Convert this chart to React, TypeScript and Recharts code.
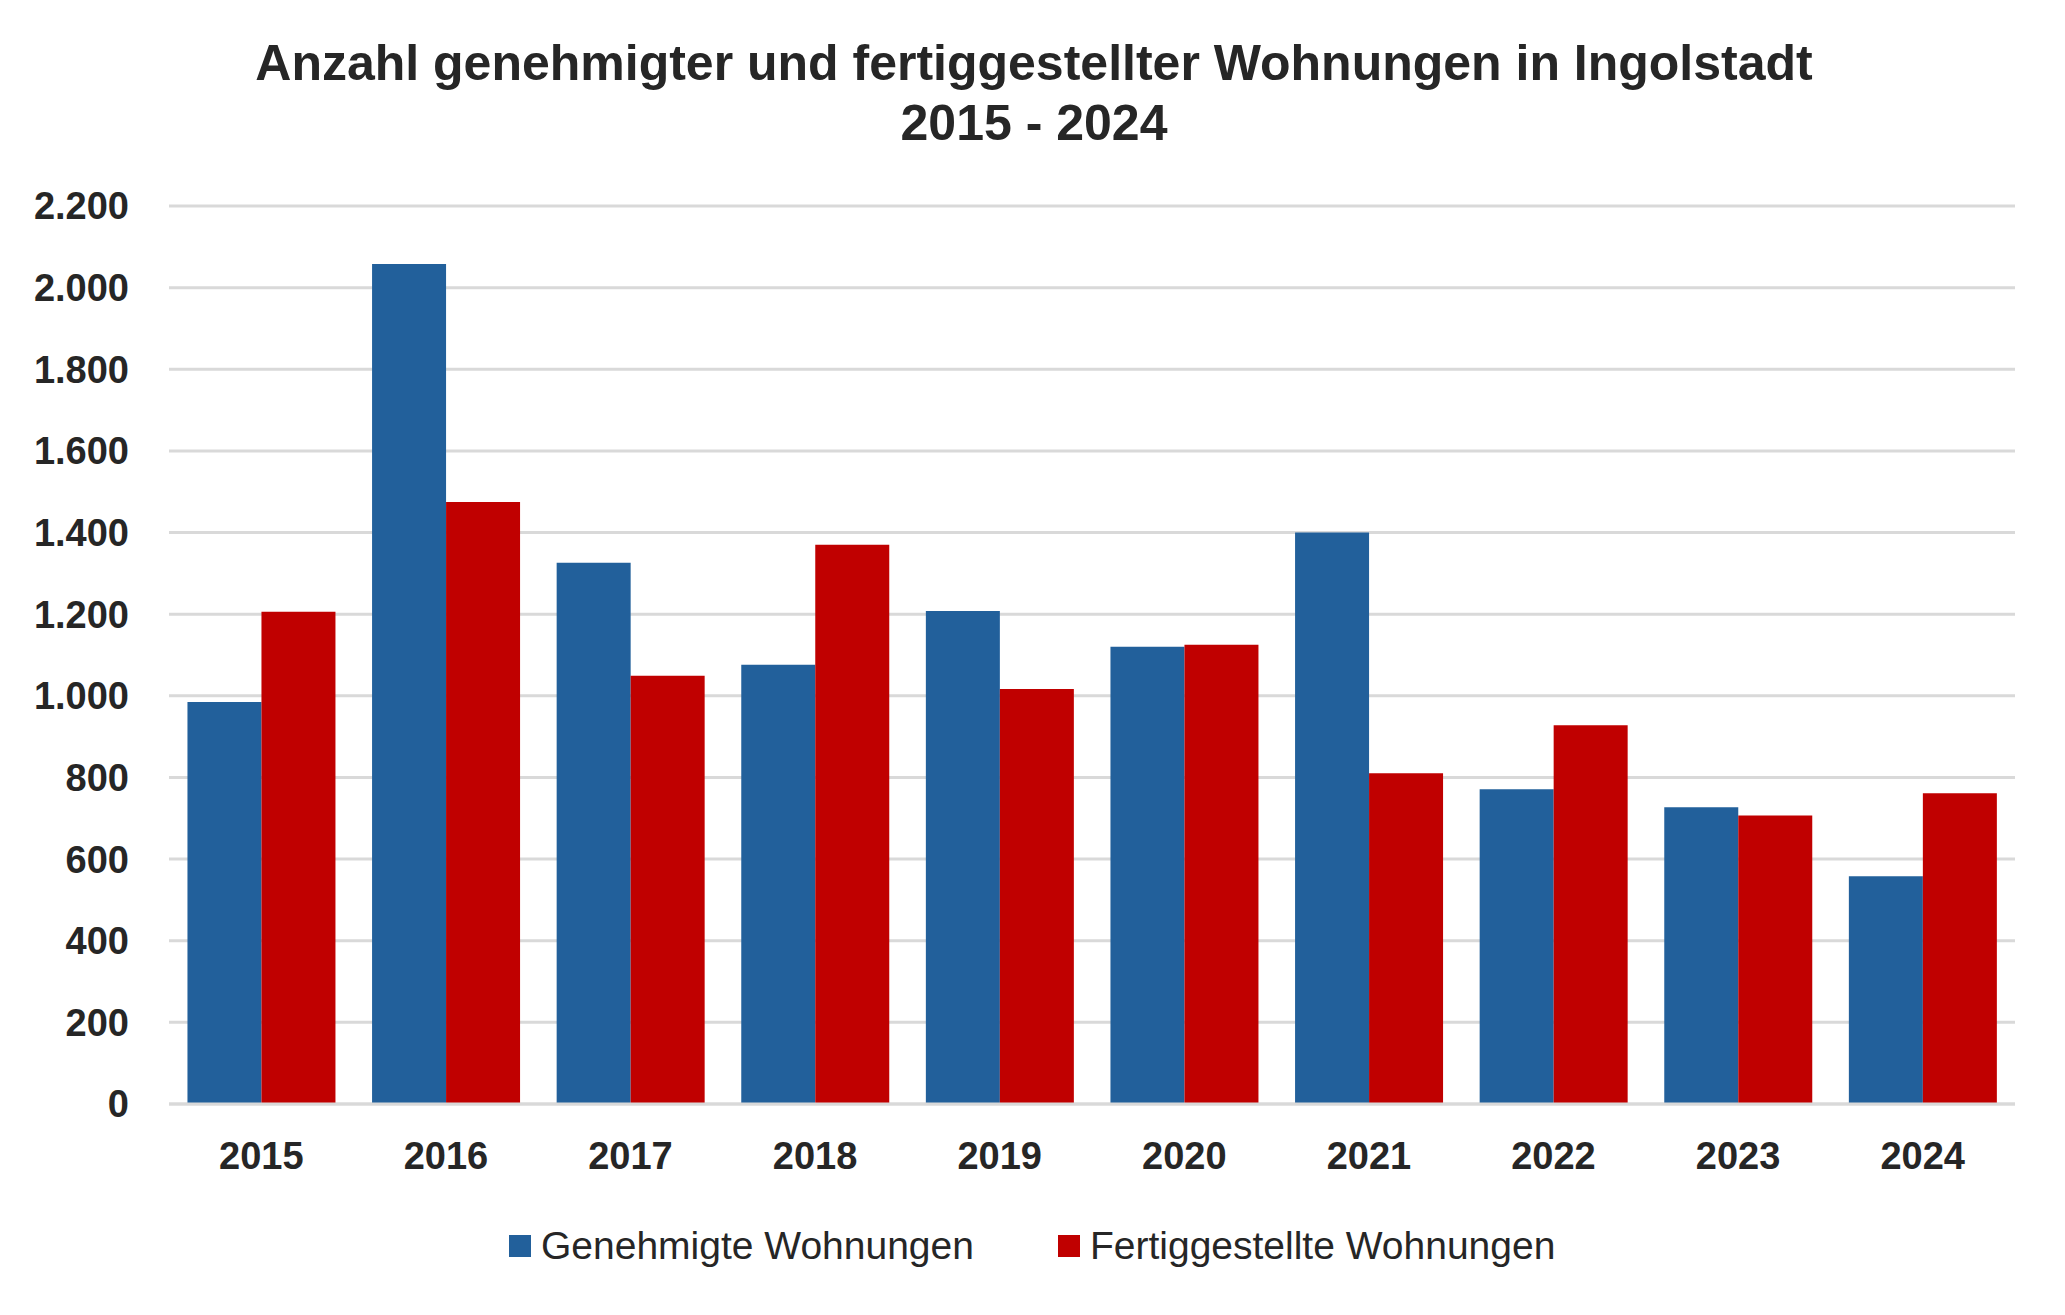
import React from "react";
import { BarChart, Bar, CartesianGrid, XAxis, YAxis, Legend } from "recharts";

const years = ["2015", "2016", "2017", "2018", "2019", "2020", "2021", "2022", "2023", "2024"];
const genehmigt = [985, 2058, 1326, 1076, 1208, 1120, 1400, 771, 727, 558];
const fertiggestellt = [1206, 1475, 1049, 1370, 1017, 1125, 810, 928, 707, 761];
const yTicks = [0, 200, 400, 600, 800, 1000, 1200, 1400, 1600, 1800, 2000, 2200];
const seriesOrder = ["genehmigt", "fertig"];

const BLUE = "#22609B";
const RED = "#C00000";
const TEXT = "#262626";
const GRID = "#D9D9D9";
const FONT = '"Liberation Sans", Arial, sans-serif';

const data = years.map((y, i) => ({
  year: y,
  genehmigt: genehmigt[i],
  fertig: fertiggestellt[i],
}));

// German thousands separator: 2200 -> "2.200"
const fmt = (v: number) => String(v).replace(/\B(?=(\d{3})+(?!\d))/g, ".");

const LegendContent = (props: any) => {
  const items = [...(props.payload || [])].sort(
    (a: any, b: any) => seriesOrder.indexOf(a.dataKey) - seriesOrder.indexOf(b.dataKey)
  );
  return (
    <div style={{ display: "flex", alignItems: "center", fontFamily: FONT }}>
      {items.map((it: any, i: number) => (
        <div
          key={i}
          style={{ display: "flex", alignItems: "center", marginRight: i === 0 ? 84 : 0 }}
        >
          <span style={{ width: 22, height: 22, background: it.color, display: "inline-block", marginRight: 10 }} />
          <span style={{ fontSize: 39, color: TEXT, lineHeight: "42px" }}>{it.value}</span>
        </div>
      ))}
    </div>
  );
};

export default function App() {
  return (
    <div style={{ position: "absolute", left: 0, top: 0, width: 2065, height: 1315, background: "#fff" }}>
      <div
        style={{
          position: "absolute",
          left: 0,
          top: 33,
          width: 2068,
          textAlign: "center",
          fontFamily: FONT,
          fontWeight: 700,
          fontSize: 50,
          lineHeight: "60px",
          color: TEXT,
        }}
      >
        Anzahl genehmigter und fertiggestellter Wohnungen in Ingolstadt
        <br />
        2015 - 2024
      </div>
      <BarChart
        width={2065}
        height={1315}
        data={data}
        margin={{ top: 206, right: 50, left: 0, bottom: 151 }}
        barCategoryGap="10%"
        barGap={0}
      >
        <CartesianGrid vertical={false} stroke={GRID} strokeWidth={3} />
        <XAxis
          dataKey="year"
          height={60}
          axisLine={{ stroke: GRID, strokeWidth: 3 }}
          tickLine={false}
          tickMargin={32}
          tick={{ fontSize: 38, fontWeight: 700, fill: TEXT, fontFamily: FONT }}
        />
        <YAxis
          width={169}
          domain={[0, 2200]}
          ticks={yTicks}
          axisLine={false}
          tickLine={false}
          tickMargin={34}
          tickFormatter={fmt}
          tick={{ fontSize: 38, fontWeight: 700, fill: TEXT, fontFamily: FONT }}
        />
        <Legend
          verticalAlign="middle"
          align="center"
          content={<LegendContent />}
          wrapperStyle={{ position: "absolute", left: 509, top: 1225, width: 1200, height: 42 }}
        />
        <Bar dataKey="genehmigt" name="Genehmigte Wohnungen" fill={BLUE} isAnimationActive={false} />
        <Bar dataKey="fertig" name="Fertiggestellte Wohnungen" fill={RED} isAnimationActive={false} />
      </BarChart>
    </div>
  );
}
